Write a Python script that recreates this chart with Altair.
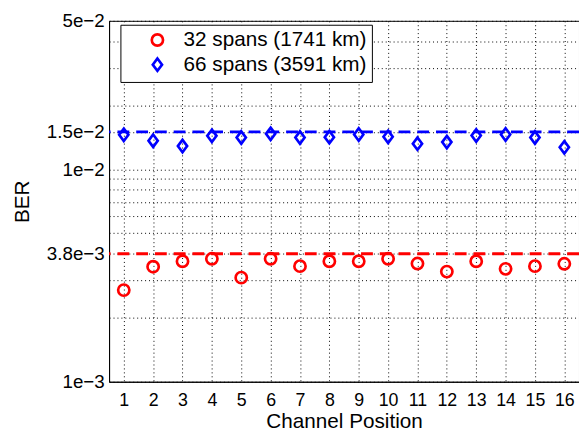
import altair as alt
import pandas as pd

# ---- data ----
channels = list(range(1, 17))
series_names = ["32 spans (1741 km)", "66 spans (3591 km)"]
ber_32 = [0.00270, 0.00348, 0.00369, 0.00379, 0.00309, 0.00379, 0.00350, 0.00369,
          0.00369, 0.00379, 0.00360, 0.00330, 0.00369, 0.00340, 0.00350, 0.00359]
ber_66 = [0.01453, 0.01363, 0.01287, 0.01437, 0.01411, 0.01469, 0.01411, 0.01416,
          0.01458, 0.01422, 0.01320, 0.01343, 0.01442, 0.01458, 0.01411, 0.01269]
threshold_values = [0.004, 0.015]
threshold_colors = ["#ff0000", "#0000ff"]
series_colors = ["#ff0000", "#0000ff"]

y_tick_values = [0.001, 0.004, 0.01, 0.015, 0.05]
y_tick_labels = ["1e\u22123", "3.8e\u22123", "1e\u22122", "1.5e\u22122", "5e\u22122"]
y_grid_values = [0.001, 0.002, 0.003, 0.004, 0.005, 0.006, 0.007, 0.008, 0.009,
                 0.01, 0.015, 0.02, 0.03, 0.04, 0.05]

FONT = "Liberation Sans"
DIAMOND = "M0,-1.1L0.82,0L0,1.1L-0.82,0Z"

points = pd.DataFrame({
    "channel": channels * 2,
    "ber": ber_32 + ber_66,
    "series": [series_names[0]] * len(channels) + [series_names[1]] * len(channels),
})
lines = pd.DataFrame({"value": threshold_values, "col": threshold_colors})

# label expression for the y axis
expr = "''"
for v, lab in reversed(list(zip(y_tick_values, y_tick_labels))):
    expr = f"abs(datum.value - {v}) < 1e-9 ? '{lab}' : ({expr})"

x_scale = alt.Scale(domain=[0.5, 16.5], nice=False, zero=False)
y_scale = alt.Scale(type="log", domain=[0.001, 0.05], nice=False)

legend = alt.Legend(
    title=None, orient="none", legendX=11.5, legendY=4,
    strokeColor="black", fillColor="white", padding=5,
    labelFont=FONT, labelFontSize=21, labelColor="black", labelLimit=400,
    symbolOffset=22, labelOffset=16, rowPadding=1,
    symbolSize=130, symbolStrokeWidth=2.7, symbolFillColor="transparent",
    cornerRadius=0,
)

rules = alt.Chart(lines).mark_rule(strokeWidth=3, strokeDash=[12, 7]).encode(
    y=alt.Y("value:Q", scale=y_scale),
    stroke=alt.Stroke("col:N", scale=None, legend=None),
)

pts = alt.Chart(points).mark_point(filled=False, size=130, strokeWidth=2.7, opacity=1).encode(
    x=alt.X("channel:Q", scale=x_scale,
            axis=alt.Axis(values=channels, title="Channel Position", grid=True,
                          labelPadding=10, labelFontSize=18, titlePadding=1, format="d")),
    y=alt.Y("ber:Q", scale=y_scale,
            axis=alt.Axis(values=y_grid_values, title="BER", grid=True,
                          labelExpr=expr, labelPadding=5, titlePadding=14)),
    color=alt.Color("series:N", scale=alt.Scale(domain=series_names, range=series_colors), legend=legend),
    shape=alt.Shape("series:N", scale=alt.Scale(domain=series_names, range=["circle", DIAMOND]), legend=legend),
)

chart = alt.layer(rules, pts).properties(
    width=476.5, height=366,
    autosize=alt.AutoSizeParams(type="none"),
    padding={"left": 102.5, "top": 10, "right": 0, "bottom": 50},
).configure_axis(
    labelFont=FONT, labelFontSize=19, labelColor="black",
    titleFont=FONT, titleFontSize=21, titleFontWeight="normal", titleColor="black",
    domainColor="black", domainWidth=1, ticks=False,
    gridColor="black", gridDash=[1, 3], gridOpacity=1, gridWidth=1,
    labelOverlap=False, labelBound=False, labelFlush=False,
).configure_view(stroke="black", strokeWidth=1)

chart.save("out.html", embed_options={"renderer": "svg", "actions": False})
